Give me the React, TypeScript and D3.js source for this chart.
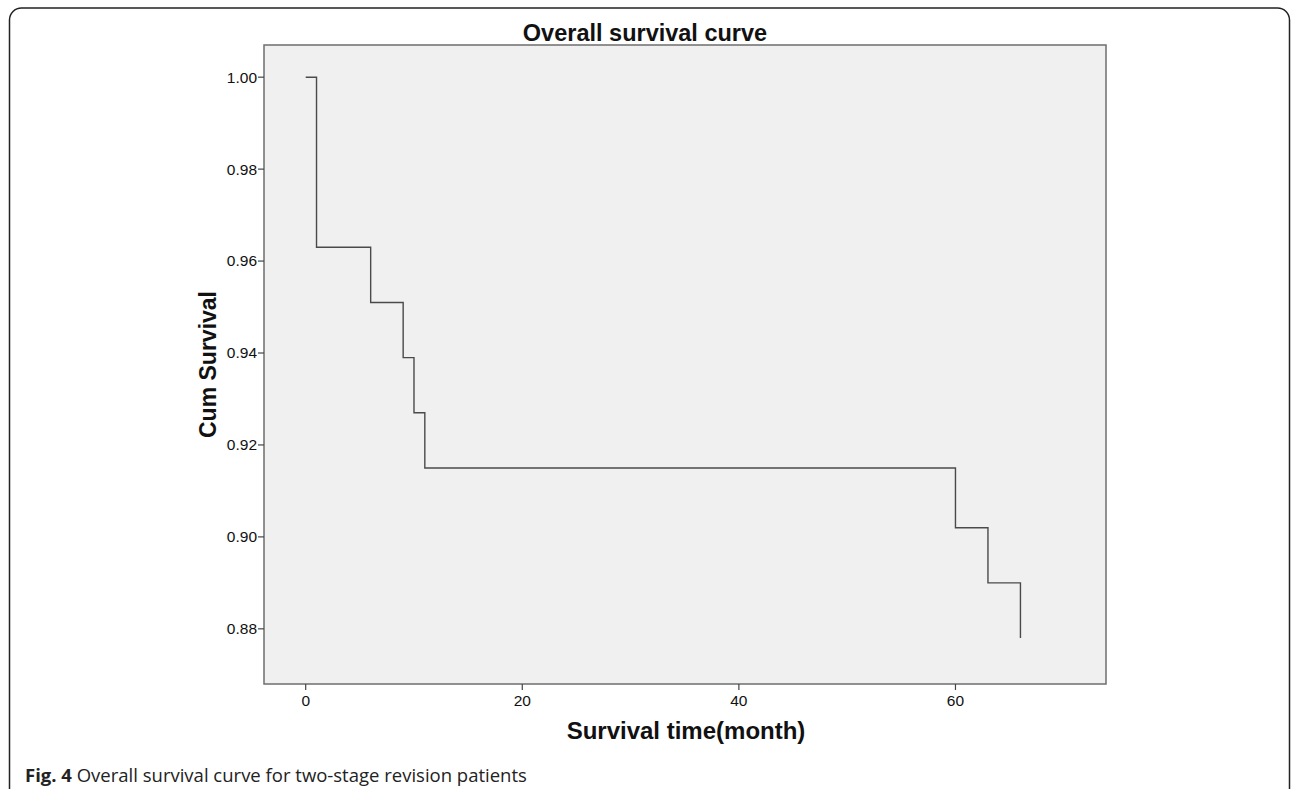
import React, { useEffect, useRef } from 'react';
import * as d3 from 'd3';

// Kaplan-Meier steps
const months = [0, 1, 6, 9, 10, 11, 60, 63, 66];
const cumSurvival = [1.0, 0.963, 0.951, 0.939, 0.927, 0.915, 0.902, 0.89, 0.878];

const xTicks = [0, 20, 40, 60];
const yTicks = [0.88, 0.9, 0.92, 0.94, 0.96, 0.98, 1.0];

const title = 'Overall survival curve';
const xLabel = 'Survival time(month)';
const yLabel = 'Cum Survival';
const captionBold = 'Fig. 4';
const captionText = ' Overall survival curve for two-stage revision patients';

export default function App() {
  const ref = useRef<SVGSVGElement>(null);

  useEffect(() => {
    const width = 1292;
    const height = 789;
    const frame = { left: 264, right: 1106, top: 45, bottom: 684 };

    const svg = d3.select(ref.current);
    svg.selectAll('*').remove();

    let x = d3.scaleLinear().domain([-3.85, 73.9]).range([frame.left, frame.right]);
    let y = d3.scaleLinear().domain([0.868, 1.007]).range([frame.bottom, frame.top]);

    // outer figure border (bottom runs off the page)
    svg.append('rect')
      .attr('x', 9.5)
      .attr('y', 8)
      .attr('width', 1280)
      .attr('height', 800)
      .attr('rx', 12)
      .attr('fill', 'none')
      .attr('stroke', '#222')
      .attr('stroke-width', 1.5);

    svg.append('rect')
      .attr('x', frame.left)
      .attr('y', frame.top)
      .attr('width', frame.right - frame.left)
      .attr('height', frame.bottom - frame.top)
      .attr('fill', '#f0f0f0')
      .attr('stroke', '#6e6e6e')
      .attr('stroke-width', 1.5);

    const font = '"Liberation Sans", Arial, sans-serif';

    // y axis ticks
    let yg = svg.append('g');
    yTicks.forEach(function(t) {
      yg.append('line')
        .attr('x1', frame.left - 6)
        .attr('x2', frame.left)
        .attr('y1', y(t))
        .attr('y2', y(t))
        .attr('stroke', '#444')
        .attr('stroke-width', 1.2);
      yg.append('text')
        .attr('x', frame.left - 7)
        .attr('y', y(t))
        .attr('dy', '0.35em')
        .attr('text-anchor', 'end')
        .attr('font-family', font)
        .attr('font-size', 15.5)
        .attr('fill', '#111')
        .text(d3.format('.2f')(t));
    });

    // x axis ticks
    let xg = svg.append('g');
    xTicks.forEach(function(t) {
      xg.append('line')
        .attr('x1', x(t))
        .attr('x2', x(t))
        .attr('y1', frame.bottom)
        .attr('y2', frame.bottom + 6)
        .attr('stroke', '#444')
        .attr('stroke-width', 1.2);
      xg.append('text')
        .attr('x', x(t))
        .attr('y', 706)
        .attr('text-anchor', 'middle')
        .attr('font-family', font)
        .attr('font-size', 15.5)
        .attr('fill', '#111')
        .text(String(t));
    });

    let points: [number, number][] = months.map(function(m, i) {
      return [m, cumSurvival[i]];
    });

    let lineFunc = d3.line<[number, number]>()
      .x(function(d) { return x(d[0]); })
      .y(function(d) { return y(d[1]); })
      .curve(d3.curveStepAfter);

    svg.append('path')
      .attr('d', lineFunc(points))
      .attr('fill', 'none')
      .attr('stroke', '#4a4a4a')
      .attr('stroke-width', 1.4);

    svg.append('text')
      .attr('x', 645)
      .attr('y', 41)
      .attr('text-anchor', 'middle')
      .attr('font-family', font)
      .attr('font-weight', 'bold')
      .attr('font-size', 23.5)
      .attr('fill', '#111')
      .text(title);

    svg.append('text')
      .attr('x', 686)
      .attr('y', 739)
      .attr('text-anchor', 'middle')
      .attr('font-family', font)
      .attr('font-weight', 'bold')
      .attr('font-size', 24)
      .attr('fill', '#111')
      .text(xLabel);

    svg.append('text')
      .attr('transform', 'translate(216,' + (frame.top + frame.bottom) / 2 + ') rotate(-90)')
      .attr('text-anchor', 'middle')
      .attr('font-family', font)
      .attr('font-weight', 'bold')
      .attr('font-size', 23)
      .attr('fill', '#111')
      .text(yLabel);

    let cap = svg.append('text')
      .attr('x', 25)
      .attr('y', 782)
      .attr('font-family', '"Open Sans", sans-serif')
      .attr('font-size', 18.5)
      .attr('fill', '#222');
    cap.append('tspan').attr('font-weight', 'bold').text(captionBold);
    cap.append('tspan').text(captionText);

    svg.attr('width', width).attr('height', height);
  }, []);

  return (
    <svg
      ref={ref}
      width={1292}
      height={789}
      style={{ position: 'absolute', left: 0, top: 0, background: '#fff' }}
    />
  );
}
